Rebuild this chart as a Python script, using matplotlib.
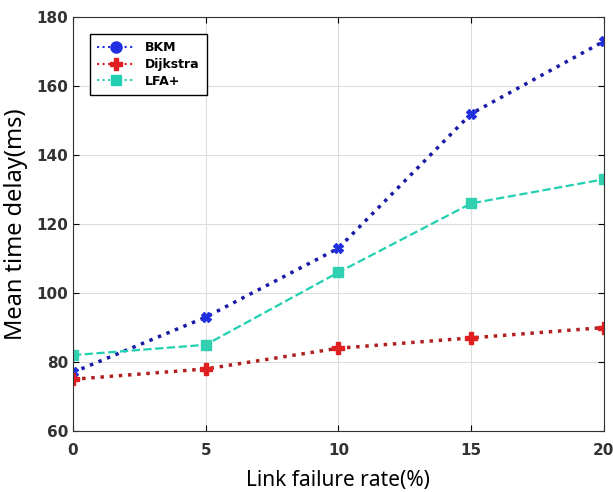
import matplotlib.pyplot as plt
from matplotlib.lines import Line2D

rate = [0, 5, 10, 15, 20]
bkm = [77, 93, 113, 152, 173]
dijkstra = [75, 78, 84, 87, 90]
lfa = [82, 85, 106, 126, 133]

fig = plt.figure(figsize=(6.13, 4.92), dpi=100)
ax = fig.add_axes([0.119, 0.124, 0.866, 0.841])

ax.plot(rate, bkm, color='#1a1aa8', ls=':', lw=2.5, marker='X', ms=7,
        mfc='#2030e0', mec='#2030e0')
ax.plot(rate, dijkstra, color='#b02020', ls=':', lw=2.5, marker='P', ms=8,
        mfc='#e02020', mec='#e02020')
ax.plot(rate, lfa, color='#20d0b0', ls='--', lw=1.6, marker='s', ms=7,
        mfc='#30d0b0', mec='#30d0b0')

handles = [
    Line2D([], [], color='#2030e0', ls=':', lw=1.5, marker='o', ms=8),
    Line2D([], [], color='#e02020', ls=':', lw=1.5, marker='P', ms=8),
    Line2D([], [], color='#20d0b0', ls=':', lw=1.5, marker='s', ms=7),
]
leg = ax.legend(handles, ['BKM', 'Dijkstra', 'LFA+'], loc='upper left',
                bbox_to_anchor=(0.02, 0.975), fancybox=False, framealpha=1,
                edgecolor='black', prop={'weight': 'bold', 'size': 9},
                handlelength=3, borderpad=0.6, labelspacing=0.3)
leg.get_frame().set_linewidth(1.0)

ax.set_xlim(0, 20)
ax.set_ylim(60, 180)
ax.set_xticks(rate)
ax.set_yticks(range(60, 181, 20))
ax.grid(True, color='#dddddd', lw=0.8)
ax.tick_params(direction='in', length=4, labelsize=11, top=True, right=True)
for lab in ax.get_xticklabels() + ax.get_yticklabels():
    lab.set_fontweight('bold')
    lab.set_color('#333333')
ax.tick_params(axis='x', pad=9)
for s in ax.spines.values():
    s.set_color('#333333')

ax.set_xlabel('Link failure rate(%)', fontsize=15, family='Noto Sans', labelpad=8)
ax.set_ylabel('Mean time delay(ms)', fontsize=17, family='Noto Sans', labelpad=6)

fig.savefig('out.png', dpi=100)
